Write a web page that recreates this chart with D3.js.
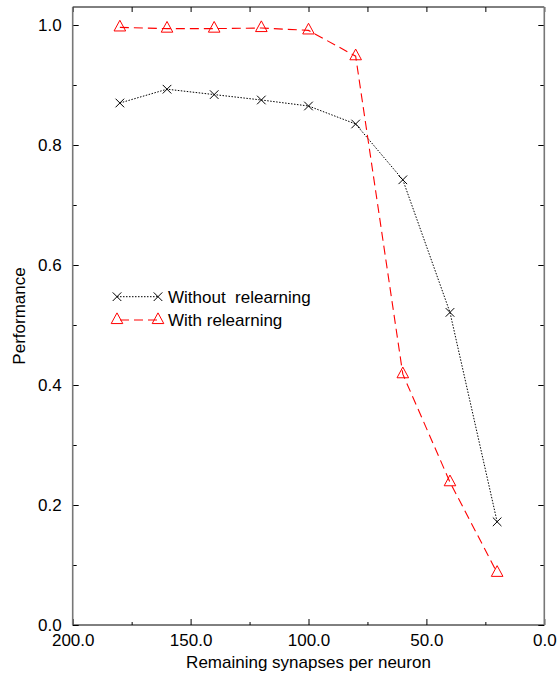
<!DOCTYPE html>
<html>
<head>
<meta charset="utf-8">
<script src="https://cdn.jsdelivr.net/npm/d3@7"></script>
<style>
  html, body { margin:0; padding:0; background:#fff; }
  svg { display:block; font-family:"Liberation Sans", Arial, Helvetica, sans-serif; }
  text { white-space:pre; }
</style>
</head>
<body>
<svg id="chart" width="559" height="676"></svg>
<script>
// ===== data =====
const synapses = [180, 160, 140, 120, 100, 80, 60, 40, 20];
const withoutRelearning = [0.870, 0.893, 0.884, 0.875, 0.865, 0.835, 0.742, 0.521, 0.172];
const withRelearning    = [0.996, 0.994, 0.994, 0.995, 0.991, 0.948, 0.418, 0.238, 0.087];
const xMajor = [200, 150, 100, 50, 0];
const xMinor = [175, 125, 75, 25];
const yMajor = [0, 0.2, 0.4, 0.6, 0.8, 1.0];
const yMinor = [0.1, 0.3, 0.5, 0.7, 0.9];
const seriesNames = ["Without  relearning", "With relearning"];

// ===== layout =====
const L = 72.7, R = 544.3, T = 7, B = 625;
const FS = 17;

const svg = d3.select("#chart");
const x = d3.scaleLinear().domain([200, 0]).range([L, R]);
const y = d3.scaleLinear().domain([0, 1.03]).range([B, T]);

function tidy(g){
  g.select(".domain").remove();
  g.selectAll("line").attr("stroke", "#000");
  g.selectAll("text").attr("font-size", FS + "px").attr("fill", "#000")
    .attr("font-family", "Liberation Sans, Arial, sans-serif");
}

// bottom axis
svg.append("g").attr("transform", `translate(0,${B})`)
  .call(d3.axisBottom(x).tickValues(xMajor).tickFormat(d3.format(".1f"))
    .tickSizeInner(-6).tickSizeOuter(0).tickPadding(8.6))
  .call(tidy);
svg.append("g").attr("transform", `translate(0,${B})`)
  .call(d3.axisBottom(x).tickValues(xMinor).tickFormat("").tickSizeInner(-3).tickSizeOuter(0))
  .call(tidy);
// top axis
svg.append("g").attr("transform", `translate(0,${T})`)
  .call(d3.axisTop(x).tickValues(xMajor.concat(xMinor)).tickFormat("").tickSizeInner(-5).tickSizeOuter(0))
  .call(tidy);
// left axis
svg.append("g").attr("transform", `translate(${L},0)`)
  .call(d3.axisLeft(y).tickValues(yMajor).tickFormat(d3.format(".1f"))
    .tickSizeInner(-6).tickSizeOuter(0).tickPadding(11))
  .call(tidy);
svg.append("g").attr("transform", `translate(${L},0)`)
  .call(d3.axisLeft(y).tickValues(yMinor).tickFormat("").tickSizeInner(-4).tickSizeOuter(0))
  .call(tidy);
// right axis
svg.append("g").attr("transform", `translate(${R},0)`)
  .call(d3.axisRight(y).tickValues(yMajor).tickFormat("").tickSizeInner(-6).tickSizeOuter(0))
  .call(tidy);
svg.append("g").attr("transform", `translate(${R},0)`)
  .call(d3.axisRight(y).tickValues(yMinor).tickFormat("").tickSizeInner(-4).tickSizeOuter(0))
  .call(tidy);

// frame
const frame = svg.append("g");
frame.append("line").attr("x1", L).attr("x2", R).attr("y1", T).attr("y2", T).attr("stroke", "#000");
frame.append("line").attr("x1", L).attr("x2", R).attr("y1", B).attr("y2", B).attr("stroke", "#000");
frame.append("line").attr("x1", L).attr("x2", L).attr("y1", T).attr("y2", B).attr("stroke", "#777").attr("stroke-width", 1.6);
frame.append("line").attr("x1", R).attr("x2", R).attr("y1", T).attr("y2", B).attr("stroke", "#777").attr("stroke-width", 1.6);

// titles
svg.append("text").attr("x", (L + R) / 2).attr("y", 668).attr("text-anchor", "middle")
  .attr("font-size", FS + "px").text("Remaining synapses per neuron");
svg.append("text").attr("transform", `translate(25,${(T + B) / 2}) rotate(-90)`).attr("text-anchor", "middle")
  .attr("font-size", FS + "px").text("Performance");

// ===== markers =====
function cross(g, cx, cy){
  const s = 4.3;
  g.append("path").attr("d", `M${cx - s},${cy - s}L${cx + s},${cy + s}M${cx - s},${cy + s}L${cx + s},${cy - s}`)
    .attr("stroke", "#000").attr("stroke-width", 1).attr("fill", "none");
}
function tri(g, cx, cy){
  const w = 5.8, h = 10.7;
  g.append("path").attr("d", `M${cx},${cy - h * 2 / 3}L${cx + w},${cy + h / 3}L${cx - w},${cy + h / 3}Z`)
    .attr("stroke", "#ff0000").attr("stroke-width", 1).attr("fill", "none");
}

const line = d3.line().x(d => x(d[0])).y(d => y(d[1]));
const plot = svg.append("g");

const ptsA = synapses.map((s, i) => [s, withoutRelearning[i]]);
const ptsB = synapses.map((s, i) => [s, withRelearning[i]]);

plot.append("path").attr("d", line(ptsA)).attr("fill", "none")
  .attr("stroke", "#000").attr("stroke-width", 1).attr("stroke-dasharray", "1.5,1.5");
plot.append("path").attr("d", line(ptsB)).attr("fill", "none")
  .attr("stroke", "#ff0000").attr("stroke-width", 1.1).attr("stroke-dasharray", "9,5");
ptsA.forEach(p => cross(plot, x(p[0]), y(p[1])));
ptsB.forEach(p => tri(plot, x(p[0]), y(p[1])));

// ===== legend =====
const lg = svg.append("g");
const lx1 = 117, lx2 = 158, ly = [296.7, 320];
lg.append("line").attr("x1", lx1).attr("x2", lx2).attr("y1", ly[0]).attr("y2", ly[0])
  .attr("stroke", "#000").attr("stroke-dasharray", "1.5,1.5");
cross(lg, lx1, ly[0]); cross(lg, lx2, ly[0]);
lg.append("line").attr("x1", lx1).attr("x2", lx2).attr("y1", ly[1]).attr("y2", ly[1])
  .attr("stroke", "#ff0000").attr("stroke-width", 1.1).attr("stroke-dasharray", "9,5").attr("stroke-dashoffset", -3);
tri(lg, lx1, ly[1]); tri(lg, lx2, ly[1]);
seriesNames.forEach((n, i) => {
  lg.append("text").attr("x", 168).attr("y", ly[i]).attr("dy", "0.36em")
    .attr("font-size", FS + "px").text(n);
});
</script>
</body>
</html>
